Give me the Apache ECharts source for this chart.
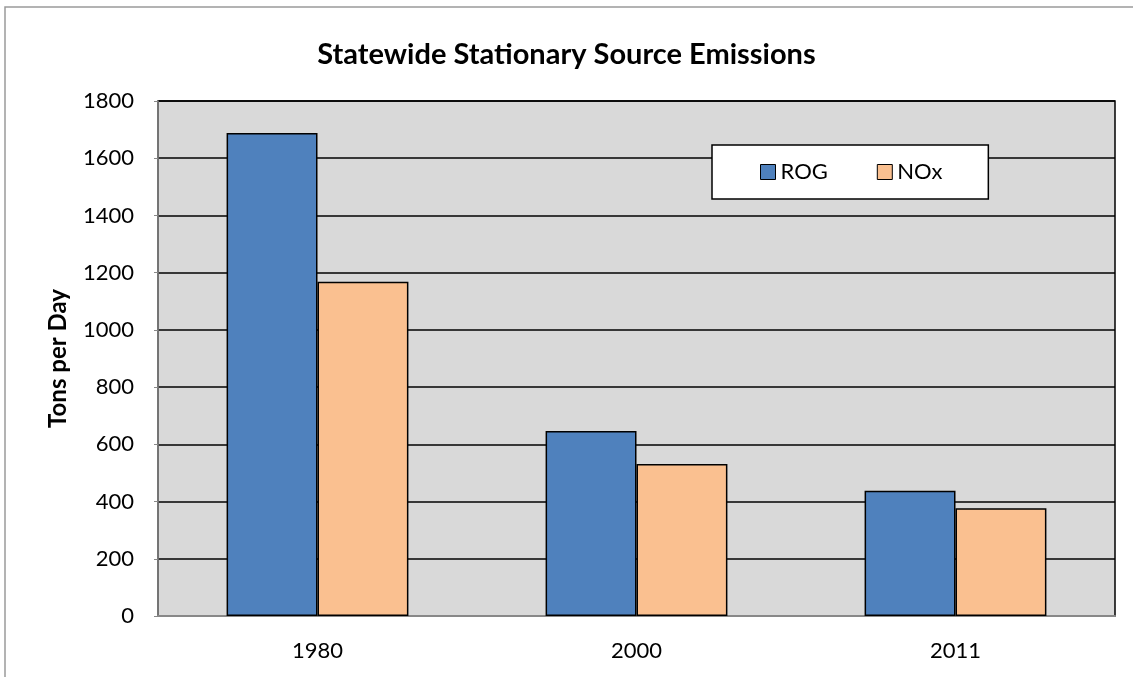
<!DOCTYPE html>
<html><head><meta charset="utf-8">
<script src="https://cdn.jsdelivr.net/npm/echarts@6/dist/echarts.min.js"></script>
<style>html,body{margin:0;padding:0;background:#fff}#c{width:1133px;height:677px}</style>
</head><body><div id="c"></div>
<script>
const categories = ['1980', '2000', '2011'];
const rog = [1688, 647, 438];
const nox = [1168, 531, 377];
const yTicks = [0, 200, 400, 600, 800, 1000, 1200, 1400, 1600, 1800];

const chart = echarts.init(document.getElementById('c'), null, {renderer: 'canvas'});
const font = 'Lato, "Open Sans", sans-serif';
chart.setOption({
  animation: false,
  backgroundColor: '#fff',
  textStyle: {fontFamily: font},
  graphic: [{
    type: 'rect', shape: {x: 5, y: 7, width: 1140, height: 700},
    style: {fill: 'none', stroke: '#9a9a9a', lineWidth: 1.5}, silent: true, z: -10
  }],
  title: {
    text: 'Statewide Stationary Source Emissions',
    left: 'center', top: 35, 
    textStyle: {fontFamily: font, fontSize: 29, fontWeight: 'bold', color: '#000'}
  },
  legend: {
    data: ['ROG', 'NOx'],
    icon: 'rect',
    left: 712, top: 145,
    padding: [16, 46, 16, 48],
    itemGap: 49,
    backgroundColor: '#fff', borderColor: '#000', borderWidth: 1.5,
    itemWidth: 15, itemHeight: 15,
    textStyle: {fontFamily: font, fontSize: 22, color: '#000'},
    itemStyle: {borderColor: '#000', borderWidth: 1}
  },
  grid: {left: 158, right: 18, top: 101, bottom: 61, show: true,
    backgroundColor: '#d9d9d9', borderColor: '#000', borderWidth: 1.5},
  xAxis: {
    type: 'category', data: categories,
    axisLine: {lineStyle: {color: '#888', width: 2}},
    axisTick: {show: false},
    axisLabel: {fontFamily: font, fontSize: 22, color: '#000', margin: 24}
  },
  yAxis: {
    type: 'value', min: yTicks[0], max: yTicks[yTicks.length - 1], interval: 200,
    name: 'Tons per Day', nameLocation: 'middle', nameGap: 88, nameRotate: 90,
    nameTextStyle: {fontFamily: font, fontSize: 24, fontWeight: 'bold', color: '#000'},
    axisLine: {show: true, lineStyle: {color: '#888', width: 1.5}},
    axisTick: {show: true, length: 4, lineStyle: {color: '#888'}},
    axisLabel: {fontFamily: font, fontSize: 22, color: '#000', margin: 24,
      formatter: v => String(v)},
    splitLine: {lineStyle: {color: '#000', width: 1.5}}
  },
  series: [
    {name: 'ROG', type: 'bar', data: rog, barGap: '0%', barCategoryGap: '43%',
      itemStyle: {color: '#4f81bd', borderColor: '#000', borderWidth: 1.5}},
    {name: 'NOx', type: 'bar', data: nox,
      itemStyle: {color: '#fac090', borderColor: '#000', borderWidth: 1.5}}
  ]
});
</script></body></html>
